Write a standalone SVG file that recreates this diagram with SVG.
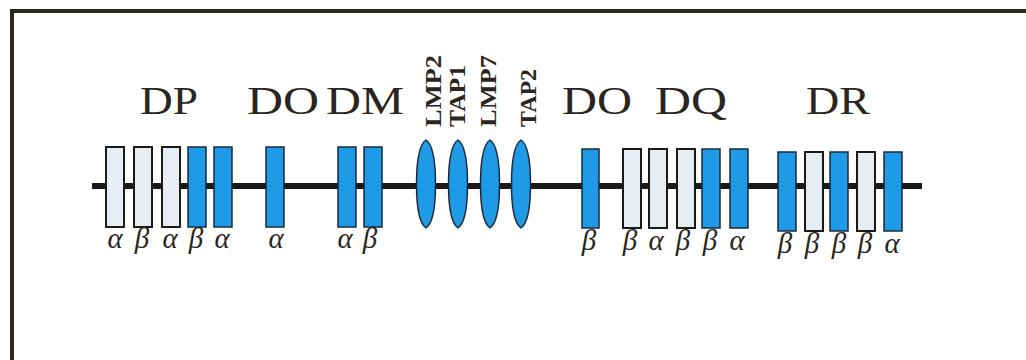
<svg xmlns="http://www.w3.org/2000/svg" width="1026" height="360" viewBox="0 0 1026 360">
  <style>
    .frame { stroke: #2a2620; stroke-width: 4; fill: none; }
    .chain { stroke: #1c1a18; stroke-width: 6; fill: none; }
    .w { fill: #e6edf3; stroke: #1c1a18; stroke-width: 2; }
    .b { fill: #1f9ae6; stroke: #1a2a38; stroke-width: 1.5; }
    .lens { fill: #1f9ae6; stroke: #1a2a38; stroke-width: 1.5; }
    .title { font-family: "Liberation Serif", "Times New Roman", serif; font-size: 40px; fill: #2a2520; }
    .gene { font-family: "Liberation Serif", "Times New Roman", serif; font-size: 23px; font-weight: bold; fill: #2a2520; }
    .gr { font-family: "Liberation Serif", "Times New Roman", serif; font-style: italic; font-size: 29px; fill: #2a2520; text-anchor: middle; }
  </style>
  <defs>
    <path id="lensShape" class="lens" d="M0,-44 C6,-40 9.5,-24 9.5,0 C9.5,24 6,40 0,44 C-6,40 -9.5,24 -9.5,0 C-9.5,-24 -6,-40 0,-44 Z"/>
  </defs>
  <rect x="0" y="0" width="1026" height="360" fill="#ffffff"/>
  <g id="frame">
    <line class="frame" x1="10" y1="11" x2="1026" y2="11"/>
    <line class="frame" x1="12" y1="9" x2="12" y2="360"/>
  </g>
  <g id="connectors">
    <line class="chain" x1="92" y1="186" x2="922" y2="186"/>
  </g>
  <g id="titles">
    <text class="title" x="140" y="114" textLength="58" lengthAdjust="spacingAndGlyphs">DP</text>
    <text class="title" x="247" y="114" textLength="72" lengthAdjust="spacingAndGlyphs">DO</text>
    <text class="title" x="326" y="114" textLength="78" lengthAdjust="spacingAndGlyphs">DM</text>
    <text class="title" x="562" y="114" textLength="70" lengthAdjust="spacingAndGlyphs">DO</text>
    <text class="title" x="655" y="114" textLength="72" lengthAdjust="spacingAndGlyphs">DQ</text>
    <text class="title" x="806" y="114" textLength="64" lengthAdjust="spacingAndGlyphs">DR</text>
  </g>
  <g id="DP">
    <rect class="w" x="106" y="147" width="18" height="80"/>
    <rect class="w" x="134" y="147" width="18" height="80"/>
    <rect class="w" x="162" y="147" width="18" height="80"/>
    <rect class="b" x="188" y="147" width="18" height="80"/>
    <rect class="b" x="214" y="147" width="18" height="80"/>
    <text class="gr" x="115" y="248">α</text>
    <text class="gr" x="142" y="248">β</text>
    <text class="gr" x="170" y="248">α</text>
    <text class="gr" x="196" y="248">β</text>
    <text class="gr" x="222" y="248">α</text>
  </g>
  <g id="DO-alpha">
    <rect class="b" x="266" y="147" width="18" height="80"/>
    <text class="gr" x="276" y="248">α</text>
  </g>
  <g id="DM">
    <rect class="b" x="338" y="147" width="18" height="80"/>
    <rect class="b" x="364" y="147" width="18" height="80"/>
    <text class="gr" x="345" y="248">α</text>
    <text class="gr" x="370" y="248">β</text>
  </g>
  <g id="LMP2">
    <use href="#lensShape" x="426" y="184"/>
    <text class="gene" transform="translate(441,127) rotate(-90)" textLength="72" lengthAdjust="spacingAndGlyphs">LMP2</text>
  </g>
  <g id="TAP1">
    <use href="#lensShape" x="458" y="184"/>
    <text class="gene" transform="translate(465,127) rotate(-90)" textLength="62" lengthAdjust="spacingAndGlyphs">TAP1</text>
  </g>
  <g id="LMP7">
    <use href="#lensShape" x="490" y="184"/>
    <text class="gene" transform="translate(496,127) rotate(-90)" textLength="72" lengthAdjust="spacingAndGlyphs">LMP7</text>
  </g>
  <g id="TAP2">
    <use href="#lensShape" x="521" y="184"/>
    <text class="gene" transform="translate(536,127) rotate(-90)" textLength="58" lengthAdjust="spacingAndGlyphs">TAP2</text>
  </g>
  <g id="DO-beta">
    <rect class="b" x="582" y="149" width="17" height="79"/>
    <text class="gr" x="589" y="250">β</text>
  </g>
  <g id="DQ">
    <rect class="w" x="623" y="149" width="18" height="79"/>
    <rect class="w" x="649" y="149" width="18" height="79"/>
    <rect class="w" x="677" y="149" width="18" height="79"/>
    <rect class="b" x="702" y="149" width="18" height="79"/>
    <rect class="b" x="730" y="149" width="18" height="79"/>
    <text class="gr" x="630" y="250">β</text>
    <text class="gr" x="656" y="250">α</text>
    <text class="gr" x="683" y="250">β</text>
    <text class="gr" x="710" y="250">β</text>
    <text class="gr" x="737" y="250">α</text>
  </g>
  <g id="DR">
    <rect class="b" x="778" y="152" width="18" height="79"/>
    <rect class="w" x="805" y="152" width="18" height="79"/>
    <rect class="b" x="830" y="152" width="18" height="79"/>
    <rect class="w" x="857" y="152" width="18" height="79"/>
    <rect class="b" x="884" y="152" width="18" height="79"/>
    <text class="gr" x="785" y="253">β</text>
    <text class="gr" x="812" y="253">β</text>
    <text class="gr" x="839" y="253">β</text>
    <text class="gr" x="865" y="253">β</text>
    <text class="gr" x="892" y="253">α</text>
  </g>
</svg>
